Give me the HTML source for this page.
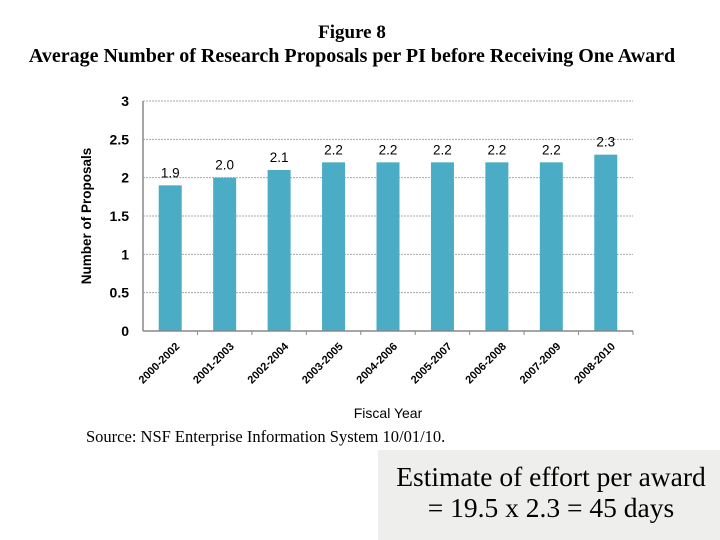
<!DOCTYPE html>
<html><head><meta charset="utf-8"><style>
body{margin:0;width:720px;height:540px;background:#fff;overflow:hidden;position:relative}
</style></head><body>
<svg width="720" height="540" style="position:absolute;left:0;top:0">
<text x="352" y="38" text-anchor="middle" font-family="Liberation Serif, serif" font-weight="bold" font-size="19">Figure 8</text>
<text x="352" y="62" text-anchor="middle" font-family="Liberation Serif, serif" font-weight="bold" font-size="20">Average Number of Research Proposals per PI before Receiving One Award</text>
<g id="grid"></g><g id="bars"></g><g id="xt"></g>
<line x1="143" y1="101" x2="143" y2="331" stroke="#888" stroke-width="1.5"/>
<line x1="143" y1="331" x2="633" y2="331" stroke="#888" stroke-width="1.5"/>
<text transform="translate(91,216) rotate(-90)" text-anchor="middle" font-family="Liberation Sans, sans-serif" font-weight="bold" font-size="13.5">Number of Proposals</text>
<text x="388" y="418" text-anchor="middle" font-family="Liberation Sans, sans-serif" font-size="14">Fiscal Year</text>
<text x="86" y="442" font-family="Liberation Serif, serif" font-size="16.5">Source: NSF Enterprise Information System 10/01/10.</text>
<rect x="378" y="450" width="342" height="90" fill="#eeeeec"/>
<text x="551" y="486" text-anchor="middle" font-family="Liberation Serif, serif" font-size="27.5">Estimate of effort per award</text>
<text x="551" y="517" text-anchor="middle" font-family="Liberation Serif, serif" font-size="27.5">= 19.5 x 2.3 = 45 days</text>
</svg>
<script>
const categories=["2000-2002","2001-2003","2002-2004","2003-2005","2004-2006","2005-2007","2006-2008","2007-2009","2008-2010"];
const values=[1.9,2.0,2.1,2.2,2.2,2.2,2.2,2.2,2.3];
const valueLabels=["1.9","2.0","2.1","2.2","2.2","2.2","2.2","2.2","2.3"];
const yTicks=[0,0.5,1,1.5,2,2.5,3];
const NS="http://www.w3.org/2000/svg";
const x0=143,x1=633,y0=331,yTop=101,yMax=3;
const cw=(x1-x0)/categories.length;
const y=v=>y0-(v/yMax)*(y0-yTop);
const xc=i=>x0+cw*(i+0.5);
function mk(t,a,p){const e=document.createElementNS(NS,t);for(const k in a)e.setAttribute(k,a[k]);p.appendChild(e);return e;}
const grid=document.getElementById('grid'),bars=document.getElementById('bars'),xt=document.getElementById('xt');
yTicks.forEach(t=>{
 if(t>0){const l=mk('line',{x1:x0,x2:x1,y1:y(t),y2:y(t),stroke:'#aaa','stroke-dasharray':'2,1'},grid);
 
 }
 const tx=mk('text',{x:x0-14,y:y(t)+5,'text-anchor':'end','font-family':'Liberation Sans, sans-serif','font-size':'14','font-weight':'bold'},grid);
 tx.textContent=t;
 
 
});
categories.forEach((c,i)=>{
 const r=mk('rect',{x:xc(i)-11.5,y:y(values[i]),width:23,height:y0-y(values[i]),fill:'#4bacc6'},bars);
 
 
 const v=mk('text',{x:xc(i),y:y(values[i])-8,'text-anchor':'middle','font-family':'Liberation Sans, sans-serif','font-size':'13.5'},bars);
 v.textContent=valueLabels[i];
 
 
 const tk=mk('line',{x1:x0+cw*(i+1),x2:x0+cw*(i+1),y1:y0,y2:y0+4,stroke:'#888'},xt);
 
 
 const lb=mk('text',{transform:`translate(${xc(i)+10},${y0+16}) rotate(-45)`,'text-anchor':'end','font-family':'Liberation Sans, sans-serif','font-size':'11','font-weight':'bold'},xt);
 lb.textContent=c;
 
 
});
</script>
</body></html>
